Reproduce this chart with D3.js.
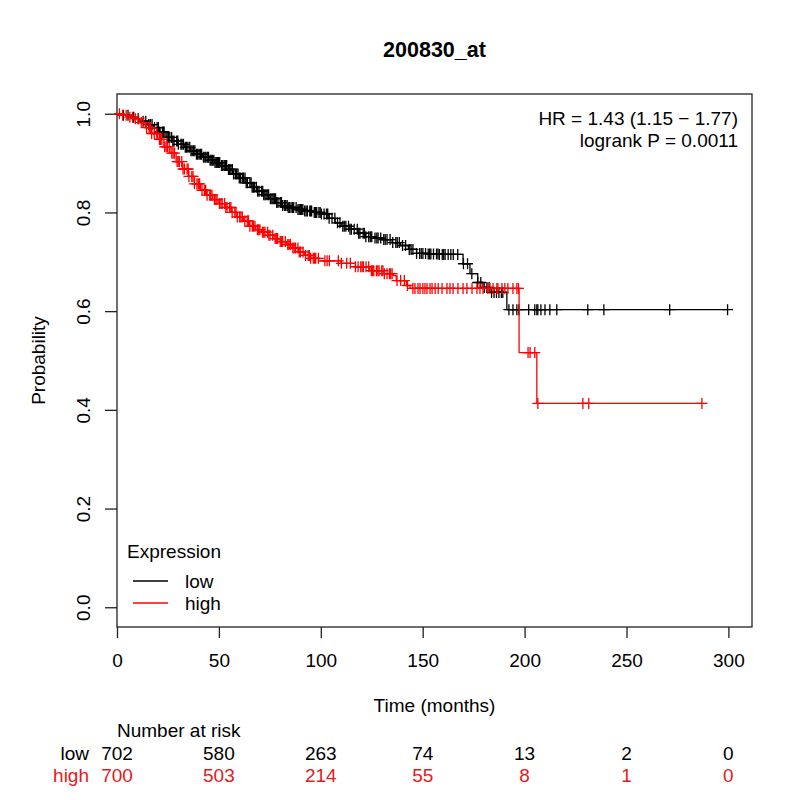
<!DOCTYPE html>
<html>
<head>
<meta charset="utf-8">
<script src="https://cdn.jsdelivr.net/npm/d3@7"></script>
<style>
  body { margin: 0; background: #fff; }
  text { font-family: "Liberation Sans", Arial, sans-serif; }
</style>
</head>
<body>
<div id="chart"></div>
<script>
// Kaplan-Meier steps (time in months, survival after the event)
const lowTimes = [0, 3, 6, 9, 12, 15, 18, 21, 24, 27, 30, 33, 36, 39, 42, 45, 48, 51, 54, 57, 60, 63, 66, 69, 72, 75, 78, 81, 84, 88, 92, 96, 100, 104, 107, 110, 114, 118, 122, 126, 130, 135, 139, 143, 147, 152, 158, 169.8, 173.2, 177, 179.6, 183, 191.3];
const lowSurv = [1, 0.997, 0.993, 0.99, 0.985, 0.978, 0.972, 0.963, 0.952, 0.945, 0.938, 0.932, 0.925, 0.918, 0.912, 0.906, 0.901, 0.895, 0.887, 0.878, 0.870, 0.860, 0.851, 0.843, 0.836, 0.828, 0.820, 0.814, 0.810, 0.806, 0.803, 0.800, 0.797, 0.788, 0.779, 0.772, 0.766, 0.758, 0.751, 0.748, 0.745, 0.739, 0.733, 0.725, 0.717, 0.716, 0.715, 0.696, 0.676, 0.658, 0.648, 0.638, 0.603];
const highTimes = [0, 2, 5, 8, 11, 14, 17, 20, 23, 26, 29, 32, 35, 38, 41, 44, 47, 50, 53, 56, 59, 62, 65, 68, 71, 74, 77, 80, 83, 86, 89, 92, 95, 99, 110, 117, 124, 131, 135.6, 137, 142, 143.8, 197.3, 206];
const highSurv = [1, 0.997, 0.993, 0.990, 0.982, 0.972, 0.960, 0.948, 0.933, 0.920, 0.903, 0.888, 0.873, 0.858, 0.845, 0.835, 0.826, 0.818, 0.810, 0.800, 0.791, 0.783, 0.772, 0.765, 0.760, 0.754, 0.747, 0.741, 0.735, 0.728, 0.720, 0.713, 0.707, 0.702, 0.697, 0.690, 0.682, 0.676, 0.672, 0.662, 0.652, 0.646, 0.516, 0.413];

// censored times
const lowCensor = [3.1, 5.4, 8.2, 10.5, 12.8, 14.1, 15.6, 16.4, 17.2, 18.4, 19.7, 20.3, 21.0, 22.3, 22.8, 23.1, 24.6, 25.2, 25.9, 26.8, 27.4, 28.0, 29.3, 29.8, 30.1, 31.4, 31.9, 32.6, 33.5, 34.1, 34.8, 35.7, 36.3, 36.9, 37.6, 38.2, 39.0, 39.6, 40.3, 41.0, 41.5, 42.4, 43.1, 43.6, 44.3, 44.9, 45.7, 46.2, 46.8, 47.5, 48.1, 48.7, 49.2, 49.8, 50.4, 51.3, 51.9, 52.6, 53.2, 53.8, 54.7, 55.3, 55.9, 56.6, 57.2, 58.1, 58.7, 59.4, 60.0, 60.6, 61.5, 62.1, 62.8, 63.4, 64.0, 65.2, 65.8, 66.3, 66.9, 67.5, 68.4, 69.0, 69.7, 70.9, 71.5, 72.0, 72.6, 73.2, 74.0, 74.4, 75.3, 76.0, 76.6, 77.2, 77.8, 78.4, 79.0, 80.1, 80.7, 81.3, 82.2, 82.8, 83.5, 84.0, 84.6, 85.4, 86.1, 86.7, 87.9, 88.8, 89.4, 90.0, 90.6, 91.2, 92.1, 92.8, 93.4, 94.6, 95.0, 95.5, 96.8, 97.4, 98.0, 99.1, 99.7, 100.3, 101.6, 102.8, 103.4, 104.1, 105.5, 106.9, 108.2, 109.4, 110.8, 111.5, 112.3, 113.6, 114.3, 115.0, 116.4, 117.9, 118.6, 119.2, 120.8, 121.4, 122.1, 123.5, 124.3, 125.0, 126.6, 127.5, 128.1, 129.4, 130.9, 131.6, 132.5, 134.0, 135.3, 136.8, 137.5, 138.5, 140.1, 141.6, 143.4, 144.3, 145.2, 147.0, 148.5, 149.3, 150.1, 151.4, 152.7, 153.4, 154.0, 155.3, 156.8, 157.5, 158.2, 159.6, 160.3, 161.0, 162.5, 163.8, 165.0, 167.2, 170.0, 172.0, 174.1, 177.0, 178.5, 180.2, 181.5, 182.6, 183.8, 185.0, 186.2, 187.4, 188.6, 189.3, 192.3, 194.3, 196.2, 197.2, 202, 205, 206, 206.5, 208, 210, 212.4, 215.8, 231, 238.9, 271.2, 299.6];
const highCensor = [1.2, 2.8, 4.5, 6.3, 7.6, 9.0, 10.4, 11.9, 13.1, 14.5, 15.8, 16.4, 17.0, 18.3, 19.5, 20.8, 21.4, 22.0, 23.4, 24.1, 24.7, 25.6, 26.9, 27.5, 28.2, 29.5, 30.0, 30.6, 31.8, 32.4, 33.1, 34.4, 34.9, 35.3, 36.7, 37.3, 38.0, 39.2, 39.9, 40.5, 41.7, 42.9, 43.5, 44.2, 45.5, 46.0, 46.6, 47.8, 48.5, 49.1, 50.3, 51.0, 51.6, 52.8, 53.4, 54.0, 55.3, 55.9, 56.5, 57.8, 58.4, 59.0, 60.2, 60.8, 61.5, 62.7, 63.9, 64.5, 65.2, 66.4, 67.0, 67.7, 68.9, 69.5, 70.1, 71.4, 72.0, 72.6, 73.9, 74.5, 75.1, 76.4, 77.6, 78.2, 78.8, 80.1, 80.7, 81.3, 82.6, 83.8, 84.4, 85.1, 86.3, 86.9, 87.6, 88.8, 89.4, 90.0, 91.3, 92.5, 93.8, 94.4, 95.0, 96.3, 96.9, 97.5, 98.8, 102.0, 103.1, 104.2, 108.6, 110.1, 112.7, 114.5, 117.0, 118.3, 119.6, 120.3, 120.9, 122.2, 123.5, 124.8, 125.4, 126.0, 127.3, 128.0, 128.6, 129.9, 130.5, 131.2, 132.5, 133.7, 134.3, 135.0, 137.4, 139.2, 141.0, 142.5, 145.2, 146.2, 147.7, 148.7, 150.1, 151.1, 152.1, 153.6, 154.6, 156.1, 157.6, 159.5, 161.9, 163.4, 164.9, 167.3, 169.8, 171.7, 174.2, 176.6, 178.1, 179.6, 182, 183, 184.5, 186.4, 186.9, 188.9, 190.3, 191.8, 194.3, 196.2, 197.0, 201.7, 202.7, 205, 206.5, 228.6, 231.5, 287];

// number at risk table
const riskTimes = [0, 50, 100, 150, 200, 250, 300];
const lowRisk = [702, 580, 263, 74, 13, 2, 0];
const highRisk = [700, 503, 214, 55, 8, 1, 0];

const groups = ["low", "high"];
const colors = ["#000000", "#ff0000"];

const W = 800, H = 800;
const margin = { top: 94, right: 48, bottom: 173, left: 117 };
const fs = 19;

const svg = d3.select("#chart").append("svg")
  .attr("width", W).attr("height", H);

const x = d3.scaleLinear()
  .domain([0, 299.6 * 1.04])
  .range([margin.left, W - margin.right]);

const y = d3.scaleLinear()
  .domain([-0.04, 1.04])
  .range([H - margin.bottom, margin.top]);

// title
svg.append("text")
  .attr("x", (x.range()[0] + x.range()[1]) / 2)
  .attr("y", 57)
  .attr("text-anchor", "middle")
  .style("font-size", "21.5px")
  .style("font-weight", "bold")
  .text("200830_at");

// box
svg.append("rect")
  .attr("x", x.range()[0]).attr("y", y.range()[1])
  .attr("width", x.range()[1] - x.range()[0])
  .attr("height", y.range()[0] - y.range()[1])
  .attr("fill", "none").attr("stroke", "#222").attr("stroke-width", 1.3);

// x axis
const xAxis = svg.append("g")
  .attr("transform", `translate(0,${y.range()[0]})`)
  .call(d3.axisBottom(x).tickValues([0, 50, 100, 150, 200, 250, 300]).tickSize(11).tickPadding(16).tickSizeOuter(0));
xAxis.select(".domain").remove();
xAxis.selectAll("line").attr("stroke", "#222").attr("stroke-width", 1.3);
xAxis.selectAll("text").style("font-size", fs + "px").attr("fill", "#000")
  .attr("font-family", null);

// y axis
const yAxis = svg.append("g")
  .attr("transform", `translate(${x.range()[0]},0)`)
  .call(d3.axisLeft(y).tickValues([0, 0.2, 0.4, 0.6, 0.8, 1.0]).tickFormat(d3.format(".1f")).tickSize(12).tickSizeOuter(0));
yAxis.select(".domain").remove();
yAxis.selectAll("line").attr("stroke", "#222").attr("stroke-width", 1.3);
yAxis.selectAll("text")
  .style("font-size", fs + "px").attr("fill", "#000")
  .attr("font-family", null)
  .attr("x", null).attr("dy", null)
  .attr("text-anchor", "middle")
  .attr("transform", "translate(-27,0) rotate(-90)");

// axis titles
svg.append("text")
  .attr("x", (x.range()[0] + x.range()[1]) / 2)
  .attr("y", 712)
  .attr("text-anchor", "middle")
  .style("font-size", fs + "px")
  .text("Time (months)");

svg.append("text")
  .attr("transform", `translate(45,${(y.range()[0] + y.range()[1]) / 2}) rotate(-90)`)
  .attr("text-anchor", "middle")
  .style("font-size", fs + "px")
  .text("Probability");

// curves
function survAt(times, surv, t) {
  const i = d3.bisectRight(times, t) - 1;
  return surv[Math.max(0, i)];
}

const line = d3.line()
  .x(d => x(d[0]))
  .y(d => y(d[1]))
  .curve(d3.curveStepAfter);

const series = [
  { times: lowTimes, surv: lowSurv, censor: lowCensor },
  { times: highTimes, surv: highSurv, censor: highCensor }
];

series.forEach((s, k) => {
  const end = d3.max(s.censor);
  const pts = s.times.map((t, i) => [t, s.surv[i]]);
  pts.push([end, survAt(s.times, s.surv, end)]);

  svg.append("path")
    .datum(pts)
    .attr("fill", "none")
    .attr("stroke", colors[k])
    .attr("stroke-width", 1.3)
    .attr("d", line);

  svg.append("g")
    .selectAll("path")
    .data(s.censor)
    .join("path")
    .attr("fill", "none")
    .attr("stroke", colors[k])
    .attr("stroke-width", 1.3)
    .attr("d", t => {
      const cx = x(t), cy = y(survAt(s.times, s.surv, t));
      return `M${cx - 5.5},${cy}h11M${cx},${cy - 5.5}v11`;
    });
});

// HR / logrank text
svg.append("text")
  .attr("x", 738).attr("y", 125)
  .attr("text-anchor", "end")
  .style("font-size", fs + "px")
  .text("HR = 1.43 (1.15 \u2212 1.77)");
svg.append("text")
  .attr("x", 738).attr("y", 147)
  .attr("text-anchor", "end")
  .style("font-size", fs + "px")
  .text("logrank P = 0.0011");

// legend
const legend = svg.append("g");
legend.append("text")
  .attr("x", 127).attr("y", 558)
  .style("font-size", fs + "px")
  .text("Expression");
groups.forEach((g, i) => {
  const ly = 581 + i * 22;
  legend.append("line")
    .attr("x1", 133).attr("x2", 168)
    .attr("y1", ly).attr("y2", ly)
    .attr("stroke", colors[i]).attr("stroke-width", 1.3);
  legend.append("text")
    .attr("x", 185).attr("y", ly + 6.5)
    .style("font-size", fs + "px")
    .text(g);
});

// number at risk
svg.append("text")
  .attr("x", x(0)).attr("y", 737)
  .style("font-size", fs + "px")
  .text("Number at risk");

[lowRisk, highRisk].forEach((vals, i) => {
  const ry = 760 + i * 22;
  svg.append("text")
    .attr("x", 89).attr("y", ry)
    .attr("text-anchor", "end")
    .attr("fill", i ? "#e41a1c" : "#000")
    .style("font-size", fs + "px")
    .text(groups[i]);
  svg.append("g")
    .selectAll("text")
    .data(vals)
    .join("text")
    .attr("x", (d, j) => x(riskTimes[j]))
    .attr("y", ry)
    .attr("text-anchor", "middle")
    .attr("fill", i ? "#e41a1c" : "#000")
    .style("font-size", fs + "px")
    .text(d => d);
});
</script>
</body>
</html>
